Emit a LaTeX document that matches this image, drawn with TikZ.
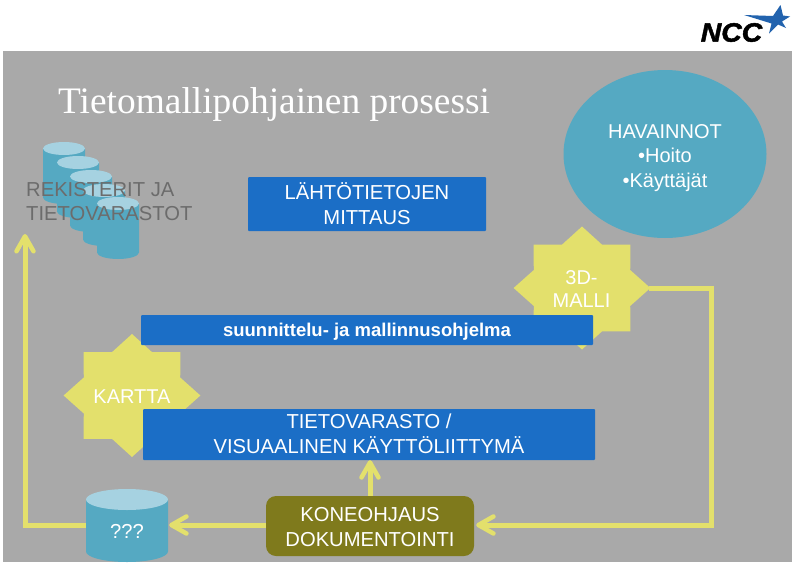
\documentclass[tikz,border=0pt]{standalone}
\usepackage{fontspec}
\setmainfont{Liberation Sans}
\newfontfamily\titlefont{Liberation Serif}
\newfontfamily\logofont[FakeBold=1.8,FakeStretch=1.07,ItalicFont={Liberation Sans Bold Italic}]{Liberation Sans Bold}
\usetikzlibrary{shapes.geometric,arrows.meta}
\definecolor{bggrey}{HTML}{A9A9A9}
\definecolor{cylbody}{HTML}{55A9C2}
\definecolor{cyltop}{HTML}{A6D2E1}
\definecolor{boxblue}{HTML}{1B6EC6}
\definecolor{ykeltainen}{HTML}{E3E06C}
\definecolor{olive}{HTML}{7F7A1C}
\definecolor{regtext}{HTML}{6C6C6C}
\definecolor{logoblue}{HTML}{2263AE}
% name, centre x, top y, width, height, end radius, text
\newcommand{\drum}[7]{%
  \fill[cylbody] (#2-#4/2,#3+#6) -- (#2-#4/2,#3+#5-#6)
     arc[start angle=180,end angle=360,x radius=#4/2,y radius=-#6]
     -- (#2+#4/2,#3+#6) -- cycle;
  \fill[cyltop] (#2,#3+#6) ellipse[x radius=#4/2,y radius=#6];
  \node[drumlabel,minimum width=#4 pt,minimum height=#5 pt] (#1) at (#2,#3+#5/2+5.5) {#7};
}
\tikzset{
  drumlabel/.style={rectangle,inner sep=0pt,text=white,font=\fontsize{20.2}{24}\selectfont},
  bluebox/.style={rectangle,fill=boxblue,rounded corners=1pt,inner sep=0pt},
  boxtext/.style={inner sep=0pt,text=white,align=center,font=\fontsize{20.2}{25}\selectfont},
  starshape/.style={star,star points=8,star point ratio=1.31,fill=ykeltainen,draw=none,inner sep=0pt,minimum size=123pt,xscale=1.112},
  startext/.style={text=white,align=center,inner sep=0pt,font=\fontsize{20}{23.5}\selectfont},
  link/.style={draw=ykeltainen,line width=5pt,line join=miter},
  arrowlink/.style={link,-{Straight Barb[length=15pt,width=17pt,line width=4.5pt,round]}},
}
\begin{document}
\begin{tikzpicture}[x=1pt,y=-1pt]
\useasboundingbox (0,0) rectangle (798,565);
\fill[white] (0,0) rectangle (798,565);
\fill[bggrey] (3,51) rectangle (792,562);
% logo
\node[inner sep=0pt,anchor=center,font=\fontsize{26.5}{26.5}\logofont\itshape] (logotext) at (731.5,32.5) {NCC};
\fill[logoblue] (744,15) -- (773,16) -- (780.5,5) -- (783,15.5) -- (790,16.5) -- (782,21.5) -- (786,28) -- (778,24.5) -- (769,33.5) -- (771.5,23.5) -- cycle;
% title
\node[anchor=base west,inner sep=0pt,text=white,font=\titlefont\fontsize{37.4}{37.4}\selectfont] (title) at (58,113) {Tietomallipohjainen prosessi};
% registers
\drum{c1}{64}{142}{42}{62}{6.5}{}
\drum{c2}{78}{156}{42}{62}{6.5}{}
\drum{c3}{91}{170}{42}{62}{6.5}{}
\drum{c4}{104}{184}{42}{62}{6.5}{}
\drum{c5}{118}{197}{42}{62}{6.5}{}
\node[anchor=north west,inner sep=0pt,text=regtext,align=left,font=\fontsize{20.2}{24.5}\selectfont] (reg) at (26,182) {REKISTERIT JA\\TIETOVARASTOT};
% observations
\node[ellipse,fill=cylbody,inner sep=0pt,minimum width=203pt,minimum height=168pt] (hav) at (665,154) {};
\node[boxtext,font=\fontsize{20}{24.5}\selectfont] (havtext) at (665,158) {HAVAINNOT\\•Hoito\\•Käyttäjät};
% stars
\node[starshape] (s3d) at (582,288) {};
\node[startext] (s3dtext) at (581.5,289) {3D-\\MALLI};
\node[starshape] (skartta) at (132,395.5) {};
\node[startext] (skarttatext) at (132,396.5) {KARTTA};
% boxes
\node[bluebox,minimum width=238pt,minimum height=54pt] (mitt) at (367,204) {};
\node[boxtext] (mitttext) at (367,203.5) {LÄHTÖTIETOJEN\\MITTAUS};
\node[bluebox,minimum width=452pt,minimum height=30pt] (ohj) at (367,330) {};
\node[boxtext,font=\fontsize{18.5}{22}\selectfont\bfseries] (ohjtext) at (367,331.5) {suunnittelu- ja mallinnusohjelma};
\node[bluebox,minimum width=452pt,minimum height=51pt] (varasto) at (369,434.5) {};
\node[boxtext] (varastotext) at (369,433.5) {TIETOVARASTO /\\VISUAALINEN KÄYTTÖLIITTYMÄ};
% bottom
\node[rectangle,rounded corners=10pt,fill=olive,inner sep=0pt,minimum width=208pt,minimum height=60pt] (kone) at (370,526) {};
\node[boxtext] (konetext) at (370,527.5) {KONEOHJAUS\\DOKUMENTOINTI};
\drum{qq}{127}{489}{82}{73}{10.5}{???}
% connectors
\coordinate (regtip) at (25,234);
\coordinate (corner) at (25,525);
\draw[arrowlink] (qq.west |- corner) -- (corner) -- (regtip);
\draw[arrowlink,shorten >=2pt,shorten <=-2pt] (s3d.east) -- (711,288) -- (711,525) -- (kone.east |- corner);
\draw[arrowlink] (kone.north) -- (varasto.south -| kone.north);
\draw[arrowlink,shorten >=1pt] (kone.west |- corner) -- (qq.east |- corner);
\end{tikzpicture}
\end{document}
